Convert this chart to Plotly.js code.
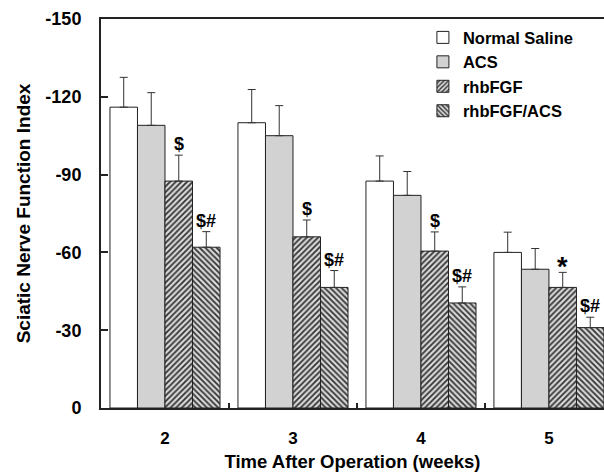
<!DOCTYPE html>
<html><head><meta charset="utf-8">
<script src="https://cdn.plot.ly/plotly-3.0.1.min.js"></script>
<style>html,body{margin:0;padding:0;background:#fff;overflow:hidden}</style>
</head><body>
<div id="chart" style="width:604px;height:473px"></div>
<script>
var weeks = [2, 3, 4, 5];
var seriesNames = ["Normal Saline", "ACS", "rhbFGF", "rhbFGF/ACS"];
var normalSaline = [-116, -110, -87.5, -60];
var acs = [-109, -105, -82, -53.5];
var rhbFGF = [-87.5, -66, -60.5, -46.5];
var rhbFGFACS = [-62, -46.5, -40.5, -31];
var errNormalSaline = [11.5, 12.8, 9.7, 7.8];
var errACS = [12.6, 11.6, 9.2, 8];
var errRhbFGF = [10, 6.5, 7.4, 5.8];
var errRhbFGFACS = [6, 6.5, 6.2, 4];
var marksRhbFGF = ["$", "$", "$", "*"];
var marksRhbFGFACS = ["$#", "$#", "$#", "$#"];
var yTickVals = [-150, -120, -90, -60, -30, 0];
var yTickText = ["-150", "-120", "-90", "-60", "-30", "0"];

var values = [normalSaline, acs, rhbFGF, rhbFGFACS];
var errs = [errNormalSaline, errACS, errRhbFGF, errRhbFGFACS];
var fills = ["#ffffff", "#d2d2d2", "#e0e0e0", "#e0e0e0"];
var patterns = ["", "", "/", "\\"];
var bargap = 0.14;
var barW = (1 - bargap) / 4;

var traces = values.map(function (v, i) {
  var m = {color: fills[i], line: {color: "#222", width: 1}};
  if (patterns[i]) m.pattern = {shape: patterns[i], fgcolor: "#333", bgcolor: "#d8d8d8", size: 4, solidity: 0.45};
  return {
    type: "bar", name: seriesNames[i], x: weeks, y: v,
    marker: m,
    error_y: {type: "data", symmetric: false, array: errs[i].map(function (e) { return -e; }), arrayminus: errs[i].map(function () { return 0; }), color: "#333", thickness: 1, width: 4}
  };
});

var fam = "Liberation Sans, Arial, sans-serif";
var annotations = [];
function addMarks(marks, idx) {
  marks.forEach(function (t, j) {
    var star = t === "*";
    annotations.push({
      x: weeks[j] + (idx - 1.5) * barW, y: values[idx][j] - errs[idx][j],
      xref: "x", yref: "y", text: "<b>" + t + "</b>", showarrow: false,
      yanchor: "bottom", xanchor: "center", yshift: star ? -12 : -1,
      font: {family: fam, size: star ? 27 : 18, color: "#000"}
    });
  });
}
addMarks(marksRhbFGF, 2);
addMarks(marksRhbFGFACS, 3);

function fb(s) { return {family: fam, size: s, color: "#000", weight: "bold"}; }

var layout = {
  width: 604, height: 473,
  margin: {l: 101, r: 0, t: 19, b: 65},
  paper_bgcolor: "#fff", plot_bgcolor: "#fff",
  barmode: "group", bargap: bargap, bargroupgap: 0,
  showlegend: true,
  legend: {x: 0.64, xanchor: "left", y: 0.997, yanchor: "top", bgcolor: "rgba(0,0,0,0)",
    font: fb(16.5), tracegroupgap: 0, itemwidth: 30},
  xaxis: {
    range: [1.5, 5.43], tickvals: weeks, ticktext: weeks.map(String),
    ticks: "", showline: true, linewidth: 2, linecolor: "#222", mirror: true,
    showgrid: false, zeroline: false, tickfont: fb(17), ticklabelstandoff: 14,
    minor: {tickvals: [2.5, 3.5, 4.5], ticks: "inside", ticklen: 5, tickwidth: 2, tickcolor: "#222", showgrid: false},
    title: {text: "Time After Operation (weeks)", font: fb(18.5), standoff: 8}
  },
  yaxis: {
    range: [0, -150], tickvals: yTickVals, ticktext: yTickText,
    ticks: "inside", ticklen: 7, tickwidth: 2, tickcolor: "#222",
    showline: true, linewidth: 2, linecolor: "#222", mirror: false,
    showgrid: false, zeroline: false, tickfont: fb(18), ticklabelstandoff: 14,
    title: {text: "Sciatic Nerve Function Index", font: fb(19), standoff: 10}
  },
  annotations: annotations
};

Plotly.newPlot("chart", traces, layout, {displayModeBar: false, staticPlot: true});
</script>
</body></html>
